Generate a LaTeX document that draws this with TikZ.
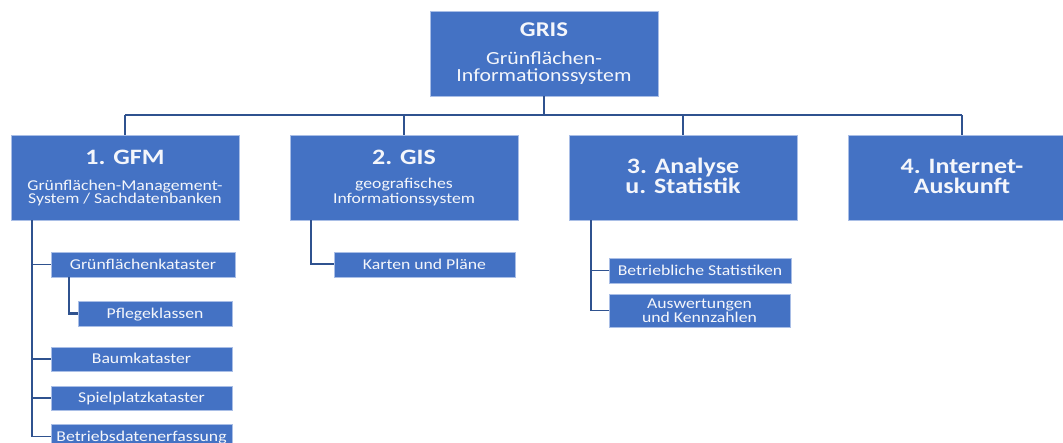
\documentclass[tikz,border=0pt]{standalone}
\usepackage{fontspec}
\setmainfont{Carlito}[FakeStretch=1.18]
\definecolor{boxblue}{HTML}{4472C4}
\definecolor{linkblue}{HTML}{2F528F}
\definecolor{edgeblue}{HTML}{A9BEE6}
\definecolor{textwhite}{HTML}{F4F6FB}

\begin{document}
\begin{tikzpicture}[x=1pt,y=-1pt,
  box/.style={draw=edgeblue, line width=0.8pt, fill=boxblue, inner sep=0pt},
  topbox/.style={box, minimum width=228pt, minimum height=85pt},
  subbox/.style={box, minimum height=25pt, text=textwhite,
    font=\fontsize{15}{14.3}\selectfont, text height=9.7pt, text depth=0pt, align=center},
  ttl/.style={text=textwhite, anchor=base, inner sep=0pt, font=\bfseries\fontsize{22}{22}\selectfont},
  sub/.style={text=textwhite, anchor=base, inner sep=0pt, font=\fontsize{15}{15}\selectfont},
  link/.style={draw=linkblue, line width=1.8pt},
  stub/.style={draw=linkblue, line width=2.7pt},
  busline/.style={draw=linkblue, line width=1.6pt}
]
\useasboundingbox (0,0) rectangle (1063,443);
\clip (0,0) rectangle (1063,443);

% root
\node[topbox] (gris) at (544,53.5) {};
\node[ttl, font=\bfseries\fontsize{21}{21}\selectfont] (gris-t) at (544,36.7) {GRIS};
\node[sub, font=\fontsize{18.5}{18.5}\selectfont] (gris-s1) at (544,65) {Grünflächen-};
\node[sub, font=\fontsize{18.5}{18.5}\selectfont] (gris-s2) at (544,81.7) {Informationssystem};

% first level
\node[topbox] (gfm) at (125,177.5) {};
\node[topbox] (gis) at (404,177.5) {};
\node[topbox] (stat) at (683,177.5) {};
\node[topbox] (web) at (962,177.5) {};

\node[ttl] (gfm-t) at (125,165) {1. GFM};
\node[sub] (gfm-s1) at (125,191) {Grünflächen-Management-};
\node[sub] (gfm-s2) at (125,204) {System / Sachdatenbanken};

\node[ttl] (gis-t) at (404,165) {2. GIS};
\node[sub] (gis-s1) at (404,189) {geografisches};
\node[sub] (gis-s2) at (404,203.5) {Informationssystem};

\node[ttl] (stat-t1) at (683,173.3) {3. Analyse};
\node[ttl] (stat-t2) at (683,194) {u. Statistik};

\node[ttl] (web-t1) at (962,173.3) {4. Internet-};
\node[ttl] (web-t2) at (962,194) {Auskunft};

% second level
\node[subbox, minimum width=184pt] (gk) at (143,264.5) {Grünflächenkataster};
\node[subbox, minimum width=154pt] (pk) at (155,313.5) {Pflegeklassen};
\node[subbox, minimum width=181pt, minimum height=24pt] (bk) at (141.5,359) {Baumkataster};
\node[subbox, minimum width=181pt, minimum height=24pt] (sk) at (141.5,398) {Spielplatzkataster};
\node[subbox, minimum width=181pt] (bde) at (141.5,436.5) {Betriebsdatenerfassung};
\node[subbox, minimum width=181pt] (kp) at (424.5,264.5) {Karten und Pläne};
\node[subbox, minimum width=182pt] (bs) at (700,270.5) {Betriebliche Statistiken};
\node[subbox, minimum width=181pt, minimum height=33pt, text height=24pt] (aw) at (699.5,310.5) {Auswertungen\\und Kennzahlen};

% connectors
\coordinate (bus) at (0,115);
\coordinate (gfm-tree) at (32,220);
\coordinate (gk-tree) at (69,277);
\coordinate (gis-tree) at (311,220);
\coordinate (stat-tree) at (591,220);

% top level: short thick stubs onto a thinner bus
\draw[busline] (gfm.north |- bus) -- (web.north |- bus);
\draw[stub] (gris.south) -- (gris.south |- bus);
\draw[stub] (gfm.north) -- (gfm.north |- bus);
\draw[stub] (gis.north) -- (gis.north |- bus);
\draw[stub] (stat.north) -- (stat.north |- bus);
\draw[stub] (web.north) -- (web.north |- bus);

% subtrees
\draw[link] (gfm-tree) |- (bde.west);
\draw[link] (gfm-tree |- gk.west) -- (gk.west);
\draw[link] (gfm-tree |- bk.west) -- (bk.west);
\draw[link] (gfm-tree |- sk.west) -- (sk.west);
\draw[link, line width=2.4pt] (gk-tree) |- (pk.west);

\draw[link, line width=2pt] (gis-tree) |- (kp.west);

\draw[link] (stat-tree) |- (aw.west);
\draw[link] (stat-tree |- bs.west) -- (bs.west);
\end{tikzpicture}
\end{document}
